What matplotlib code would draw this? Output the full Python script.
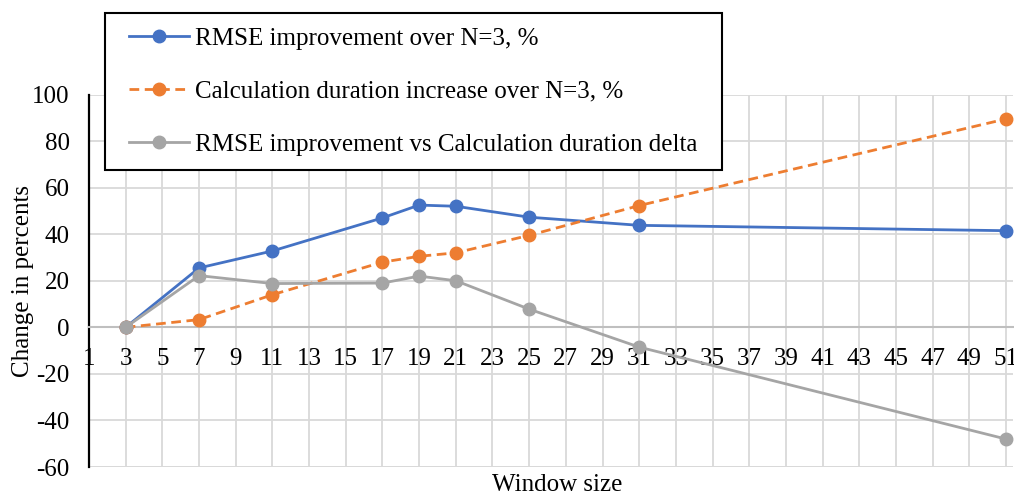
import matplotlib
matplotlib.use("Agg")
import matplotlib.pyplot as plt
from matplotlib.patches import Rectangle

# Window sizes and the three series (percent change relative to N=3)
window_sizes = [3, 7, 11, 17, 19, 21, 25, 31, 51]
rmse_improvement = [0, 25.5, 32.8, 47, 52.5, 52, 47.3, 43.8, 41.5]
duration_increase = [0, 3.3, 14, 28, 30.5, 32, 39.5, 52.3, 89.5]
delta = [r - d for r, d in zip(rmse_improvement, duration_increase)]

labels = [
    "RMSE improvement over N=3, %",
    "Calculation duration increase over N=3, %",
    "RMSE improvement vs Calculation duration delta",
]
colors = ["#4472C4", "#ED7D31", "#A5A5A5"]

x_ticks = list(range(1, 52, 2))
y_ticks = list(range(-60, 101, 20))

FS = 18
W, H = 1014, 495

plt.rcParams["font.family"] = ["Liberation Serif", "DejaVu Serif"]

fig = plt.figure(figsize=(W / 100, H / 100), dpi=100)
ax = fig.add_axes([89 / W, 1 - 467 / H, (1013 - 89) / W, (467 - 94.5) / H])

ax.set_xlim(1, 51.38)
ax.set_ylim(-60, 100)

for side in ["top", "right"]:
    ax.spines[side].set_visible(False)
ax.spines["left"].set_color("black")
ax.spines["left"].set_linewidth(1.6)
ax.spines["bottom"].set_position(("data", 0))
ax.spines["bottom"].set_color("#BFBFBF")
ax.spines["bottom"].set_linewidth(1.5)

ax.set_xticks(x_ticks)
ax.set_yticks(y_ticks)
ax.set_xticklabels([str(t) for t in x_ticks])
ax.set_yticklabels([str(t) for t in y_ticks])
ax.tick_params(axis="both", length=0, labelsize=FS)
ax.tick_params(axis="x", pad=15)
ax.tick_params(axis="y", pad=14)

ax.grid(True, color="#D9D9D9", linewidth=1.3, zorder=0)
ax.set_axisbelow(True)
# Bottom boundary gridline at -60
ax.axhline(-60, color="#D9D9D9", linewidth=1.3, zorder=0)

l1, = ax.plot(window_sizes, rmse_improvement, color=colors[0], lw=2.0,
              marker="o", ms=9, label=labels[0], zorder=3)
l2, = ax.plot(window_sizes, duration_increase, color=colors[1], lw=2.0,
              ls=(0, (3.5, 2)), marker="o", ms=9, label=labels[1], zorder=3)
l3, = ax.plot(window_sizes, delta, color=colors[2], lw=2.0,
              marker="o", ms=9, label=labels[2], zorder=3)

ax.set_ylabel("Change in percents", fontsize=FS)
ax.yaxis.set_label_coords((34 - 89) / (1013 - 89), 0.5)
fig.text(557 / W, 1 - 485 / H, "Window size", fontsize=FS,
         ha="center", va="center")

# Legend box with a square black frame
frame = Rectangle((105 / W, 1 - 170 / H), (722 - 105) / W, (170 - 13) / H,
                  transform=fig.transFigure, facecolor="white",
                  edgecolor="black", linewidth=1.5, zorder=9)
fig.add_artist(frame)

leg = fig.legend(handles=[l1, l2, l3], loc="upper left",
                 bbox_to_anchor=(129 / W, 1 - 27 / H),
                 bbox_transform=fig.transFigure,
                 fontsize=FS, frameon=False,
                 handlelength=2.4, handletextpad=0.25, labelspacing=1.22,
                 borderpad=0, borderaxespad=0)
leg.set_zorder(10)

fig.savefig("out.png", dpi=100)
